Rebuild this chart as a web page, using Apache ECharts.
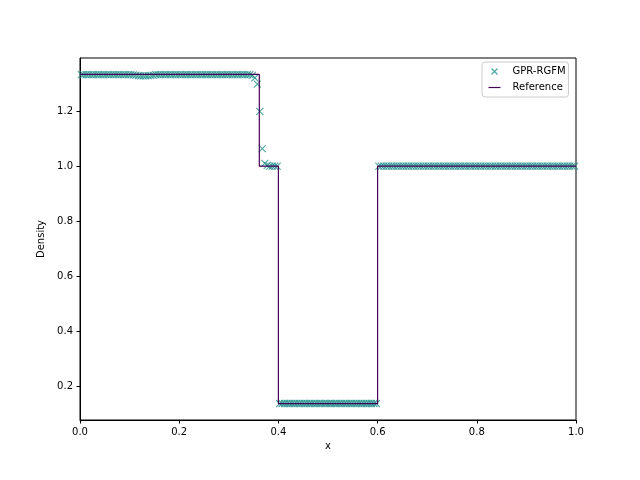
<!DOCTYPE html>
<html>
<head>
<meta charset="utf-8">
<script src="https://cdn.jsdelivr.net/npm/echarts@6/dist/echarts.min.js"></script>
<style>
  html, body { margin: 0; padding: 0; background: #fff; }
  #chart { width: 640px; height: 480px; }
</style>
</head>
<body>
<div id="chart"></div>
<script>
// GPR-RGFM density, one value per cell (200 uniform cells on [0, 1])
const gprDensity = [
  1.333, 1.333, 1.333, 1.333, 1.333, 1.333, 1.333, 1.333, 1.333, 1.333,
  1.333, 1.333, 1.333, 1.333, 1.333, 1.333, 1.333, 1.333, 1.333, 1.333,
  1.333, 1.332, 1.331, 1.329, 1.328, 1.328, 1.328, 1.329, 1.330, 1.331,
  1.333, 1.333, 1.333, 1.333, 1.333, 1.333, 1.333, 1.333, 1.333, 1.333,
  1.333, 1.333, 1.333, 1.333, 1.333, 1.333, 1.333, 1.333, 1.333, 1.333,
  1.333, 1.333, 1.333, 1.333, 1.333, 1.333, 1.333, 1.333, 1.333, 1.333,
  1.333, 1.333, 1.333, 1.333, 1.333, 1.333, 1.333, 1.333, 1.333, 1.330,
  1.321, 1.298, 1.199, 1.064, 1.010, 1.003, 1.000, 1.000, 1.000, 1.000,
  0.138, 0.138, 0.138, 0.138, 0.138, 0.138, 0.138, 0.138, 0.138, 0.138,
  0.138, 0.138, 0.138, 0.138, 0.138, 0.138, 0.138, 0.138, 0.138, 0.138,
  0.138, 0.138, 0.138, 0.138, 0.138, 0.138, 0.138, 0.138, 0.138, 0.138,
  0.138, 0.138, 0.138, 0.138, 0.138, 0.138, 0.138, 0.138, 0.138, 0.138,
  1.000, 1.000, 1.000, 1.000, 1.000, 1.000, 1.000, 1.000, 1.000, 1.000,
  1.000, 1.000, 1.000, 1.000, 1.000, 1.000, 1.000, 1.000, 1.000, 1.000,
  1.000, 1.000, 1.000, 1.000, 1.000, 1.000, 1.000, 1.000, 1.000, 1.000,
  1.000, 1.000, 1.000, 1.000, 1.000, 1.000, 1.000, 1.000, 1.000, 1.000,
  1.000, 1.000, 1.000, 1.000, 1.000, 1.000, 1.000, 1.000, 1.000, 1.000,
  1.000, 1.000, 1.000, 1.000, 1.000, 1.000, 1.000, 1.000, 1.000, 1.000,
  1.000, 1.000, 1.000, 1.000, 1.000, 1.000, 1.000, 1.000, 1.000, 1.000,
  1.000, 1.000, 1.000, 1.000, 1.000, 1.000, 1.000, 1.000, 1.000, 1.000
]

// reference solution: piecewise constant profile
const refX = [0, 0.3615, 0.3615, 0.4, 0.4, 0.6, 0.6, 1.0]
const refY = [1.3333, 1.3333, 1.0, 1.0, 0.1379, 0.1379, 1.0, 1.0]

const yTicks = [0.2, 0.4, 0.6, 0.8, 1.0, 1.2]
const yMin = 0.0781
const yMax = 1.3931

const FONT = 'DejaVu Sans'
const GPR_COLOR = '#21918c'
const REF_COLOR = '#440154'
const xMarker = 'path://M0,0L10,10M10,0L0,10'

// cell centres of the uniform grid
const cellX = gprDensity.map((_, i) => (i + 0.5) / gprDensity.length)

const chart = echarts.init(document.getElementById('chart'), null, { renderer: 'canvas' })
chart.setOption({
  animation: false,
  backgroundColor: '#fff',
  grid: { left: 80, right: 64, top: 58, bottom: 60, show: true, borderColor: '#000', borderWidth: 1, backgroundColor: 'transparent' },
  legend: {
    orient: 'vertical', left: 482, top: 62,
    padding: [4, 3, 4, 4], itemGap: 5, itemWidth: 12, itemHeight: 6,
    borderColor: '#ccc', borderWidth: 1, borderRadius: 3, backgroundColor: 'rgba(255,255,255,0.8)',
    textStyle: { fontFamily: FONT, fontSize: 10, color: '#000', padding: [0, 0, 0, 7] },
    data: [
      { name: 'GPR-RGFM', icon: 'path://M3,0L9,6M9,0L3,6M0,0M12,6',
        itemStyle: { color: 'none', borderColor: GPR_COLOR, borderWidth: 1.3 } },
      { name: 'Reference', icon: 'path://M0,0M0,3L12,3M12,6',
        itemStyle: { color: 'none', borderColor: REF_COLOR, borderWidth: 1.2 } }
    ]
  },
  xAxis: {
    type: 'value', min: 0, max: 1, interval: 0.2,
    name: 'x', nameLocation: 'middle', nameGap: 21,
    nameTextStyle: { fontFamily: FONT, fontSize: 10, color: '#000' },
    axisLine: { show: true, lineStyle: { color: '#000', width: 1 } },
    axisTick: { show: true, length: 3.5, lineStyle: { color: '#000' } },
    axisLabel: { fontFamily: FONT, fontSize: 10, color: '#000', margin: 7, formatter: (v) => v.toFixed(1) },
    splitLine: { show: false }
  },
  yAxis: {
    type: 'value', min: yMin, max: yMax,
    name: 'Density', nameLocation: 'middle', nameGap: 27, nameRotate: 90,
    nameTextStyle: { fontFamily: FONT, fontSize: 10, color: '#000' },
    axisLine: { show: true, lineStyle: { color: '#000', width: 1 } },
    axisTick: { show: true, length: 3.5, lineStyle: { color: '#000' }, customValues: yTicks },
    axisLabel: { fontFamily: FONT, fontSize: 10, color: '#000', margin: 7, customValues: yTicks, formatter: (v) => v.toFixed(1) },
    splitLine: { show: false }
  },
  series: [
    {
      name: 'GPR-RGFM', type: 'scatter',
      symbol: xMarker, symbolSize: 7, symbolKeepAspect: true,
      itemStyle: { color: 'none', borderColor: GPR_COLOR, borderWidth: 1.1 },
      data: cellX.map((x, i) => [x, gprDensity[i]])
    },
    {
      name: 'Reference', type: 'line',
      symbol: 'none', lineStyle: { color: REF_COLOR, width: 1.2 },
      itemStyle: { color: REF_COLOR },
      data: refX.map((x, i) => [x, refY[i]])
    }
  ]
})
</script>
</body>
</html>
